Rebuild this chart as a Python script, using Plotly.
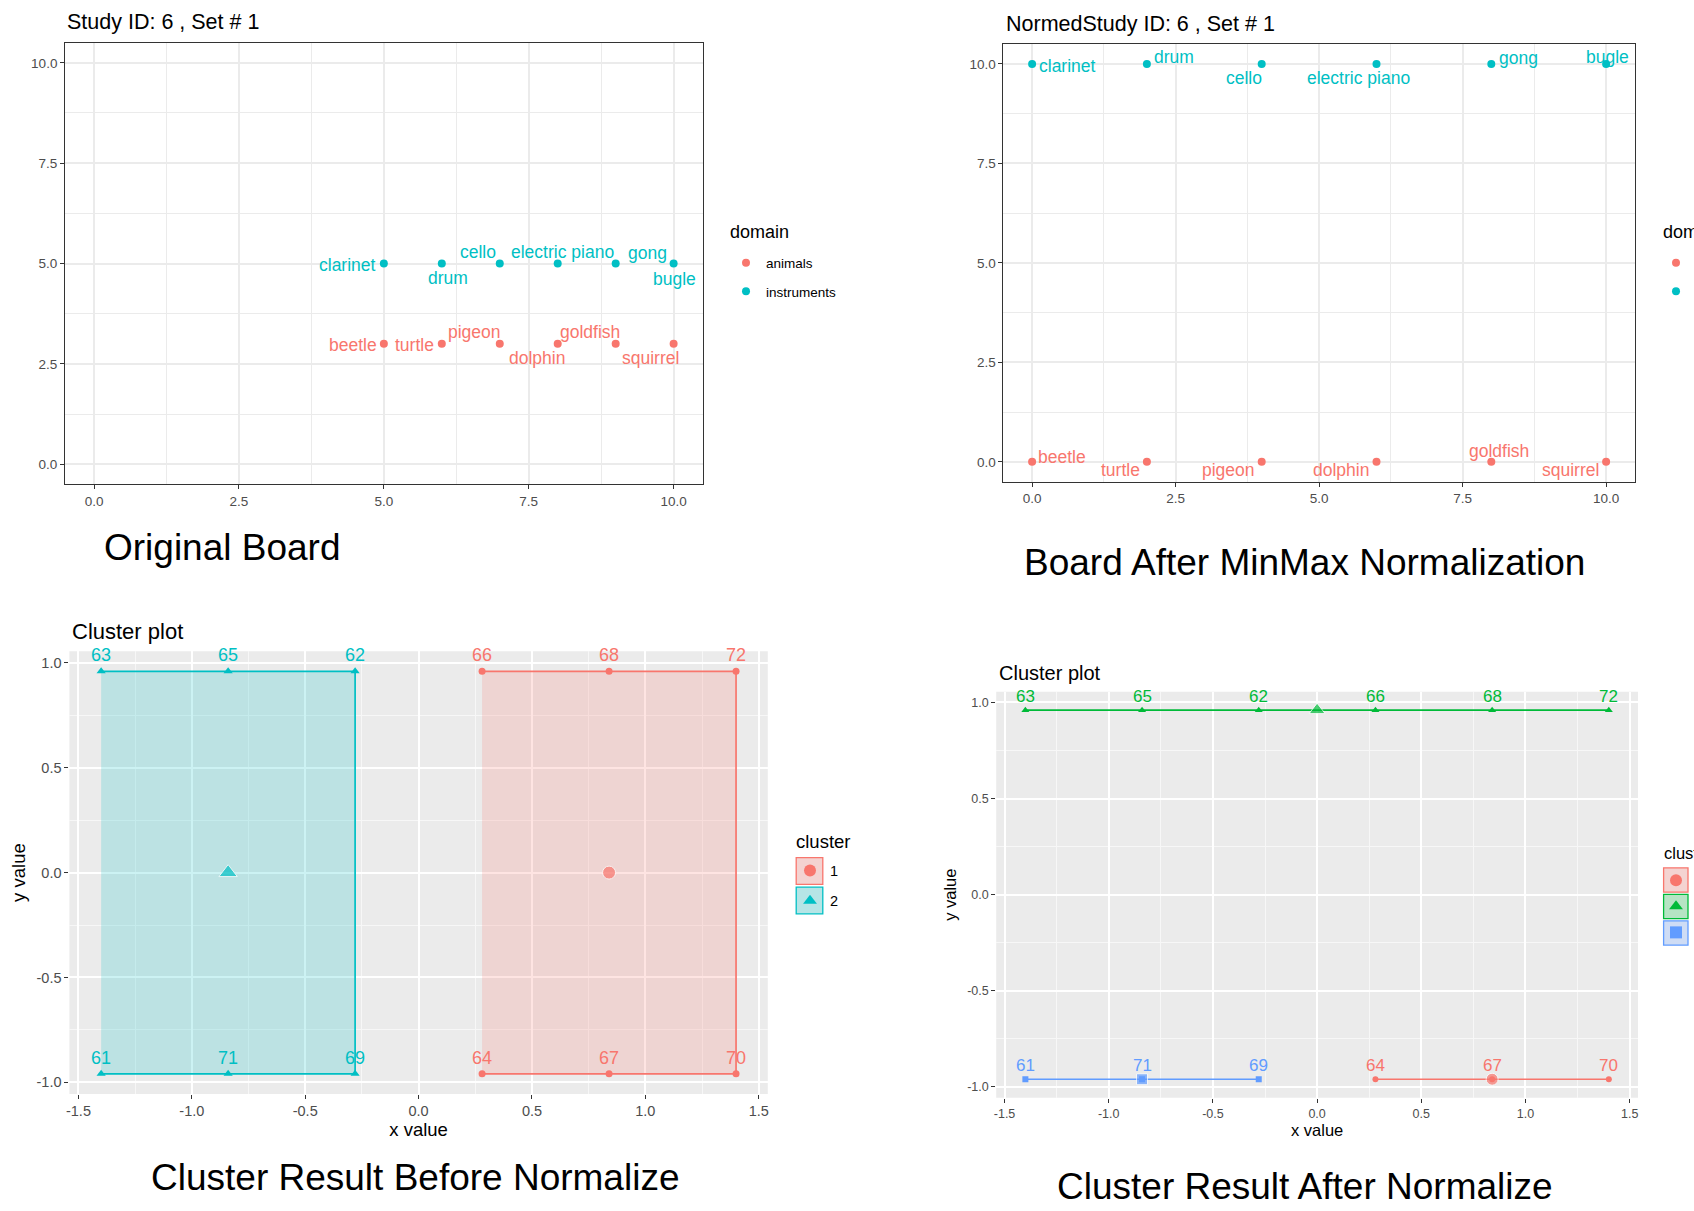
import plotly.graph_objects as go

# ---------------- data ----------------
instrument_names = ["clarinet", "drum", "cello", "electric piano", "gong", "bugle"]
animal_names = ["beetle", "turtle", "pigeon", "dolphin", "goldfish", "squirrel"]

# original board positions
orig_x = [5, 6, 7, 8, 9, 10]
orig_instrument_y = [5, 5, 5, 5, 5, 5]
orig_animal_y = [3, 3, 3, 3, 3, 3]

# board after min-max normalisation
norm_x = [0, 2, 4, 6, 8, 10]
norm_instrument_y = [10, 10, 10, 10, 10, 10]
norm_animal_y = [0, 0, 0, 0, 0, 0]

board_ticks = [0, 2.5, 5, 7.5, 10]
board_tick_labels = ["0.0", "2.5", "5.0", "7.5", "10.0"]
board_minor = [1.25, 3.75, 6.25, 8.75]

# cluster result before normalising (points listed in hull order)
before_c1_ids = ["66", "68", "72", "70", "67", "64"]
before_c1_x = [0.28, 0.84, 1.40, 1.40, 0.84, 0.28]
before_c1_y = [0.96, 0.96, 0.96, -0.96, -0.96, -0.96]
before_c2_ids = ["63", "65", "62", "69", "71", "61"]
before_c2_x = [-1.40, -0.84, -0.28, -0.28, -0.84, -1.40]
before_c2_y = [0.96, 0.96, 0.96, -0.96, -0.96, -0.96]
before_centers_x = [0.84, -0.84]
before_centers_y = [0.0, 0.0]

# cluster result after normalising
after_c1_ids = ["64", "67", "70"]
after_c1_x = [0.28, 0.84, 1.40]
after_c1_y = [-0.96, -0.96, -0.96]
after_c2_ids = ["63", "65", "62", "66", "68", "72"]
after_c2_x = [-1.40, -0.84, -0.28, 0.28, 0.84, 1.40]
after_c2_y = [0.96, 0.96, 0.96, 0.96, 0.96, 0.96]
after_c3_ids = ["61", "71", "69"]
after_c3_x = [-1.40, -0.84, -0.28]
after_c3_y = [-0.96, -0.96, -0.96]
after_centers_x = [0.84, 0.0, -0.84]
after_centers_y = [-0.96, 0.96, -0.96]

cluster_x_ticks = [-1.5, -1.0, -0.5, 0.0, 0.5, 1.0, 1.5]
cluster_x_labels = ["-1.5", "-1.0", "-0.5", "0.0", "0.5", "1.0", "1.5"]
cluster_x_minor = [-1.25, -0.75, -0.25, 0.25, 0.75, 1.25]
cluster_y_ticks = [-1.0, -0.5, 0.0, 0.5, 1.0]
cluster_y_labels = ["-1.0", "-0.5", "0.0", "0.5", "1.0"]
cluster_y_minor = [-0.75, -0.25, 0.25, 0.75]

# ---------------- styling ----------------
W, H = 1694, 1211
FONT = "Liberation Sans, Arial, Helvetica, sans-serif"
RED, TEAL = "#F8766D", "#00BFC4"
GREEN, BLUE = "#00BA38", "#619CFF"
TICK_TXT = "#4D4D4D"
DARK = "#333333"
GRID_BW = "#EBEBEB"

# label offsets (pixels) relative to each point
orig_instr_off = [(-36, -1), (6, -14), (-22, 12), (5, 12), (32, 11), (1, -15)]
orig_animal_off = [(-31, -1), (-27, -1), (-25, 12), (-21, -14), (-26, 12), (-23, -14)]
norm_instr_off = [(35, -2), (27, 7), (-18, -14), (-18, -14), (27, 6), (1, 7)]
norm_animal_off = [(30, 5), (-26, -8), (-33, -8), (-36, -8), (8, 11), (-36, -8)]


def px_x(p):
    return p / W


def px_y(p):
    return 1 - p / H


def rgba(hexc, a):
    h = hexc.lstrip("#")
    return "rgba(%d,%d,%d,%.2f)" % (int(h[0:2], 16), int(h[2:4], 16), int(h[4:6], 16), a)


def blend(hexc, a, base=242):
    h = hexc.lstrip("#")
    c = [int(h[i:i + 2], 16) for i in (0, 2, 4)]
    return "rgb(%d,%d,%d)" % tuple(round(a * v + (1 - a) * base) for v in c)


fig = go.Figure()
annotations = []
shapes = []


def add_labels(names, xs, ys, offsets, color, xref, yref, size):
    for n, x, y, (dx, dy) in zip(names, xs, ys, offsets):
        annotations.append(dict(
            x=x, y=y, xref=xref, yref=yref, text=n, showarrow=False,
            xanchor="center", yanchor="middle", xshift=dx, yshift=dy,
            font=dict(family=FONT, size=size, color=color)))


# ---- panel 1: original board ----
fig.add_trace(go.Scatter(x=orig_x, y=orig_animal_y, mode="markers", name="animals",
                         marker=dict(color=RED, size=8), xaxis="x", yaxis="y",
                         legend="legend", legendgroup="a1"))
fig.add_trace(go.Scatter(x=orig_x, y=orig_instrument_y, mode="markers", name="instruments",
                         marker=dict(color=TEAL, size=8), xaxis="x", yaxis="y",
                         legend="legend", legendgroup="i1"))
add_labels(instrument_names, orig_x, orig_instrument_y, orig_instr_off, TEAL, "x", "y", 17.5)
add_labels(animal_names, orig_x, orig_animal_y, orig_animal_off, RED, "x", "y", 17.5)

# ---- panel 2: normalised board ----
fig.add_trace(go.Scatter(x=norm_x, y=norm_animal_y, mode="markers", name="animals",
                         marker=dict(color=RED, size=8), xaxis="x2", yaxis="y2",
                         legend="legend2", legendgroup="a2", cliponaxis=False))
fig.add_trace(go.Scatter(x=norm_x, y=norm_instrument_y, mode="markers", name="instruments",
                         marker=dict(color=TEAL, size=8), xaxis="x2", yaxis="y2",
                         legend="legend2", legendgroup="i2", cliponaxis=False))
add_labels(instrument_names, norm_x, norm_instrument_y, norm_instr_off, TEAL, "x2", "y2", 17.5)
add_labels(animal_names, norm_x, norm_animal_y, norm_animal_off, RED, "x2", "y2", 17.5)


def add_cluster(name, xs, ys, ids, color, sym, size, ax, legend, grp, label_dy, label_size):
    xa, ya = "x" + ax, "y" + ax
    # convex hull outline and fill
    fig.add_trace(go.Scatter(x=xs, y=ys, mode="lines", fill="toself",
                             fillcolor=rgba(color, 0.2), line=dict(color=color, width=1.7),
                             xaxis=xa, yaxis=ya, showlegend=False, hoverinfo="skip"))
    # member points
    fig.add_trace(go.Scatter(x=xs, y=ys, mode="markers", name=name,
                             marker=dict(color=color, size=size, symbol=sym),
                             xaxis=xa, yaxis=ya, legend=legend, legendgroup=grp))
    add_labels(ids, xs, ys, [(0, label_dy)] * len(ids), color, xa, ya, label_size)


# ---- panel 3: clusters before normalising ----
add_cluster("1", before_c1_x, before_c1_y, before_c1_ids, RED, "circle", 7,
            "3", "legend3", "b1", 16, 18)
add_cluster("2", before_c2_x, before_c2_y, before_c2_ids, TEAL, "triangle-up", 8,
            "3", "legend3", "b2", 16, 18)
fig.add_trace(go.Scatter(x=before_centers_x, y=before_centers_y, mode="markers",
                         marker=dict(color=[RED, TEAL], size=[13, 16],
                                     symbol=["circle", "triangle-up"]),
                         xaxis="x3", yaxis="y3", showlegend=False))

# ---- panel 4: clusters after normalising ----
add_cluster("1", after_c1_x, after_c1_y, after_c1_ids, RED, "circle", 6,
            "4", "legend4", "c1", 14, 17)
add_cluster("2", after_c2_x, after_c2_y, after_c2_ids, GREEN, "triangle-up", 7,
            "4", "legend4", "c2", 14, 17)
add_cluster("3", after_c3_x, after_c3_y, after_c3_ids, BLUE, "square", 6,
            "4", "legend4", "c3", 14, 17)
fig.add_trace(go.Scatter(x=after_centers_x, y=after_centers_y, mode="markers",
                         marker=dict(color=[RED, GREEN, BLUE], size=[12, 14, 11],
                                     symbol=["circle", "triangle-up", "square"]),
                         xaxis="x4", yaxis="y4", showlegend=False))

# ---- titles, legend headings and captions ----
for text, x, y, size in [
        ("Study ID: 6 , Set # 1", 65, 22, 21.5),
        ("NormedStudy ID: 6 , Set # 1", 1003.5, 24, 21.5),
        ("Cluster plot", 69.5, 631, 22),
        ("Cluster plot", 996.5, 673, 20),
        ("domain", 728, 232, 18),
        ("domain", 1661, 232, 18),
        ("cluster", 794, 841, 18.5),
        ("cluster", 1662, 853, 16.5)]:
    annotations.append(dict(x=px_x(x), y=px_y(y), xref="paper", yref="paper", text=text,
                            showarrow=False, xanchor="left", yanchor="middle",
                            font=dict(family=FONT, size=size, color="black")))

for text, x, y in [
        ("Original Board", 222, 548),
        ("Board After MinMax Normalization", 1304, 562),
        ("Cluster Result Before Normalize", 415, 1177),
        ("Cluster Result After Normalize", 1305, 1186)]:
    annotations.append(dict(x=px_x(x), y=px_y(y), xref="paper", yref="paper", text=text,
                            showarrow=False, xanchor="center", yanchor="middle",
                            font=dict(family=FONT, size=37, color="black")))

# legend key boxes for the cluster legends
for color, (x0, x1, yc, half) in [
        (RED, (796.2, 822.8, 871, 13.3)), (TEAL, (796.2, 822.8, 900.5, 13.3)),
        (RED, (1663.6, 1688, 880, 12.2)), (GREEN, (1663.6, 1688, 906.5, 12.2)),
        (BLUE, (1663.6, 1688, 933, 12.2))]:
    shapes.append(dict(type="rect", xref="paper", yref="paper",
                       x0=px_x(x0), x1=px_x(x1), y0=px_y(yc + half), y1=px_y(yc - half),
                       fillcolor=blend(color, 0.25), line=dict(color=color, width=1.3),
                       layer="above"))


def board_axis(domain):
    return dict(domain=domain, range=[-0.5, 10.5], tickvals=board_ticks,
                ticktext=board_tick_labels, showgrid=True, gridcolor=GRID_BW, gridwidth=2,
                minor=dict(tickvals=board_minor, showgrid=True, gridcolor=GRID_BW, gridwidth=1),
                zeroline=False, showline=True, mirror=True, linecolor=DARK, linewidth=1,
                ticks="outside", ticklen=4, tickcolor=DARK, tickwidth=1,
                tickfont=dict(family=FONT, size=13.5, color=TICK_TXT), fixedrange=True)


def cluster_axis(domain, rng, vals, labels, minor, title, tsize, standoff):
    return dict(domain=domain, range=rng, tickvals=vals, ticktext=labels,
                showgrid=True, gridcolor="white", gridwidth=2,
                minor=dict(tickvals=minor, showgrid=True, gridcolor="#F7F7F7", gridwidth=1),
                zeroline=False, showline=False, ticks="outside", ticklen=4, tickcolor=DARK,
                tickwidth=1, tickfont=dict(family=FONT, size=tsize - 4, color=TICK_TXT),
                title=dict(text=title, font=dict(family=FONT, size=tsize, color="black"),
                           standoff=standoff), fixedrange=True)


p1x = [px_x(65.1), px_x(702.6)]
p1y = [px_y(484.3), px_y(42.7)]
p2x = [px_x(1003.4), px_x(1634.8)]
p2y = [px_y(481.7), px_y(44)]
p3x = [px_x(69.4), px_x(767.8)]
p3y = [px_y(1094), px_y(651.2)]
p4x = [px_x(996.2), px_x(1638)]
p4y = [px_y(1097.7), px_y(691.7)]

xr = [-1.54, 1.54]
yr = [-1.056, 1.056]

# grey panel backgrounds for the cluster plots
for ax in ("3", "4"):
    shapes.insert(0, dict(type="rect", xref="x%s domain" % ax, yref="y%s domain" % ax,
                          x0=0, x1=1, y0=0, y1=1, fillcolor="#EBEBEB",
                          line=dict(width=0), layer="below"))


def legend_box(x, yc, isize, gap, sizing="trace"):
    return dict(x=px_x(x), y=px_y(yc), xanchor="left", yanchor="middle",
                bgcolor="rgba(0,0,0,0)", borderwidth=0, itemwidth=30,
                traceorder="grouped", tracegroupgap=gap, itemsizing=sizing,
                font=dict(family=FONT, size=isize, color="black"))


layout = dict(
    width=W, height=H, margin=dict(l=0, r=0, t=0, b=0, autoexpand=False),
    paper_bgcolor="white", plot_bgcolor="white",
    font=dict(family=FONT, color="black"),
    xaxis=dict(board_axis(p1x), anchor="y"),
    yaxis=dict(board_axis(p1y), anchor="x"),
    xaxis2=dict(board_axis(p2x), anchor="y2"),
    yaxis2=dict(board_axis(p2y), anchor="x2"),
    xaxis3=dict(cluster_axis(p3x, xr, cluster_x_ticks, cluster_x_labels, cluster_x_minor,
                             "x value", 18.5, 2), anchor="y3"),
    yaxis3=dict(cluster_axis(p3y, yr, cluster_y_ticks, cluster_y_labels, cluster_y_minor,
                             "y value", 18.5, 6), anchor="x3"),
    xaxis4=dict(cluster_axis(p4x, xr, cluster_x_ticks, cluster_x_labels, cluster_x_minor,
                             "x value", 16.5, 2), anchor="y4"),
    yaxis4=dict(cluster_axis(p4y, yr, cluster_y_ticks, cluster_y_labels, cluster_y_minor,
                             "y value", 16.5, 6), anchor="x4"),
    shapes=shapes,
    annotations=annotations,
    showlegend=True,
    legend=legend_box(726, 277.5, 13.5, 8),
    legend2=legend_box(1656, 277.5, 13.5, 8),
    legend3=legend_box(790, 886, 14.5, 8.5, "constant"),
    legend4=legend_box(1656, 906.5, 13.5, 5.5, "constant"),
)

fig.update_layout(**layout)
fig.write_html("out.html")
